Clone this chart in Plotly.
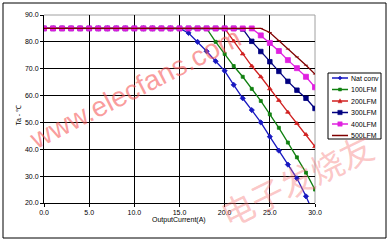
import plotly.graph_objects as go

# ---------------- data ----------------
current = list(range(0, 31))
flat = [85.0] * 15
nat_conv = flat + [85.0, 83.3, 80.0, 76.5, 72.8, 69.2, 64.0, 59.0, 54.6, 50.0, 44.7, 39.5, 34.3, 29.2, 22.5, 15.0]
lfm100 = [85.0] * 18 + [85.0, 80.0, 75.5, 71.0, 67.0, 62.5, 58.0, 53.0, 48.0, 42.5, 37.0, 31.3, 25.0]
lfm200 = [85.0] * 20 + [85.0, 80.3, 75.5, 71.0, 67.0, 62.5, 58.2, 53.8, 49.6, 45.5, 41.0]
lfm300 = [85.0] * 22 + [84.8, 80.2, 76.4, 72.6, 69.0, 65.3, 62.0, 59.0, 55.2]
lfm400 = [85.0] * 23 + [85.0, 82.4, 79.6, 76.6, 73.2, 70.2, 67.0, 63.1]
lfm500 = [85.0] * 24 + [85.0, 83.5, 80.5, 77.3, 74.4, 71.3, 68.0]

names = ["Nat conv", "100LFM", "200LFM", "300LFM", "400LFM", "500LFM"]
series = [nat_conv, lfm100, lfm200, lfm300, lfm400, lfm500]
colors = ["#1818C0", "#108010", "#D02020", "#000080", "#E020E0", "#800000"]
symbols = ["diamond", "square", "triangle-up", "square", "square", "line-ew"]
msizes = [4, 3, 4, 4.5, 5, 3]

x_ticks = [0, 5, 10, 15, 20, 25, 30]
y_ticks = [20, 30, 40, 50, 60, 70, 80, 90]

# ---------------- layout geometry (pixels) ----------------
W, H = 390, 243
L, R, T, B = 44, 315, 15, 203


def px(xp):
    return (xp - L) / (R - L)


def py(yp):
    return (B - yp) / (B - T)


fig = go.Figure()
for name, ys, c, s, ms in zip(names, series, colors, symbols, msizes):
    fig.add_trace(go.Scatter(
        x=current, y=ys, name=name, mode="lines+markers",
        line=dict(color=c, width=1.3),
        marker=dict(symbol=s, size=ms, color=c, line=dict(color=c, width=0.8)),
        showlegend=False, cliponaxis=True,
    ))

font = dict(family="Liberation Sans, Arial, sans-serif", size=7, color="black")

shapes = []
annotations = []

# outer chart border
shapes.append(dict(type="rect", xref="paper", yref="paper",
                   x0=px(3), x1=px(386), y0=py(238), y1=py(3),
                   line=dict(color="black", width=1), fillcolor="rgba(0,0,0,0)"))
# gray top/right plot border
shapes.append(dict(type="line", xref="paper", yref="paper", x0=0, x1=1, y0=1, y1=1,
                   line=dict(color="#A0A0A0", width=1), layer="between"))
shapes.append(dict(type="line", xref="paper", yref="paper", x0=1, x1=1, y0=0, y1=1,
                   line=dict(color="#A0A0A0", width=1), layer="between"))

# legend box
shapes.append(dict(type="rect", xref="paper", yref="paper",
                   x0=px(328), x1=px(381), y0=py(139), y1=py(73),
                   line=dict(color="black", width=1), fillcolor="white"))
for i, (name, c, s) in enumerate(zip(names, colors, symbols)):
    yrow = 78 + 11.5 * i
    shapes.append(dict(type="line", xref="paper", yref="paper",
                       x0=px(332), x1=px(348), y0=py(yrow), y1=py(yrow),
                       line=dict(color=c, width=1.5)))
    mx = 340
    if s == "square":
        h = 1.5 if i == 1 else 2.2
        shapes.append(dict(type="rect", xref="paper", yref="paper",
                           x0=px(mx - h), x1=px(mx + h), y0=py(yrow + h), y1=py(yrow - h),
                           line=dict(color=c, width=0.5), fillcolor=c))
    elif s == "triangle-up":
        shapes.append(dict(type="path", xref="paper", yref="paper",
                           path=f"M {px(mx-2)} {py(yrow+1.8)} L {px(mx+2)} {py(yrow+1.8)} L {px(mx)} {py(yrow-2.2)} Z",
                           line=dict(color=c, width=0.5), fillcolor=c))
    elif s == "diamond":
        shapes.append(dict(type="path", xref="paper", yref="paper",
                           path=f"M {px(mx-2)} {py(yrow)} L {px(mx)} {py(yrow-2)} L {px(mx+2)} {py(yrow)} L {px(mx)} {py(yrow+2)} Z",
                           line=dict(color=c, width=0.5), fillcolor=c))
    annotations.append(dict(xref="paper", yref="paper", x=px(349), y=py(yrow),
                            text=name, showarrow=False, xanchor="left", yanchor="middle",
                            font=font))

# axis titles
annotations.append(dict(xref="paper", yref="paper", x=px(179), y=py(226),
                        text="OutputCurrent(A)", showarrow=False, font=font))
annotations.append(dict(xref="paper", yref="paper", x=px(12), y=py(115),
                        text="Ta - ℃", showarrow=False, textangle=-90, font=font))

# watermarks
annotations.append(dict(xref="paper", yref="paper", x=px(135), y=py(89),
                        text="www.elecfans.com", showarrow=False, textangle=-27,
                        xanchor="center", yanchor="middle",
                        font=dict(family="Liberation Sans, Arial, sans-serif", size=28,
                                  color="rgba(245,90,90,0.6)")))
annotations.append(dict(xref="paper", yref="paper", x=px(296), y=py(180),
                        text="电子发烧友", showarrow=False, textangle=-26,
                        xanchor="center", yanchor="middle",
                        font=dict(family="Noto Sans CJK SC", size=33,
                                  color="rgba(245,110,110,0.4)")))

fig.update_layout(
    width=W, height=H,
    margin=dict(l=L, r=W - R, t=T, b=H - B),
    paper_bgcolor="white", plot_bgcolor="white",
    showlegend=False,
    font=font,
    shapes=shapes,
    annotations=annotations,
    xaxis=dict(range=[0, 30], tickvals=x_ticks, tickformat=".1f",
               showgrid=True, gridcolor="black", gridwidth=1,
               showline=True, linecolor="black", linewidth=1,
               ticks="outside", ticklen=3, tickcolor="black", tickfont=font,
               zeroline=False, fixedrange=True),
    yaxis=dict(range=[20, 90], tickvals=y_ticks, tickformat=".1f",
               showgrid=True, gridcolor="black", gridwidth=1,
               showline=True, linecolor="black", linewidth=1,
               ticks="outside", ticklen=3, tickcolor="black", tickfont=font,
               zeroline=False, fixedrange=True),
)

fig.write_html("out.html", config={"displayModeBar": False})
